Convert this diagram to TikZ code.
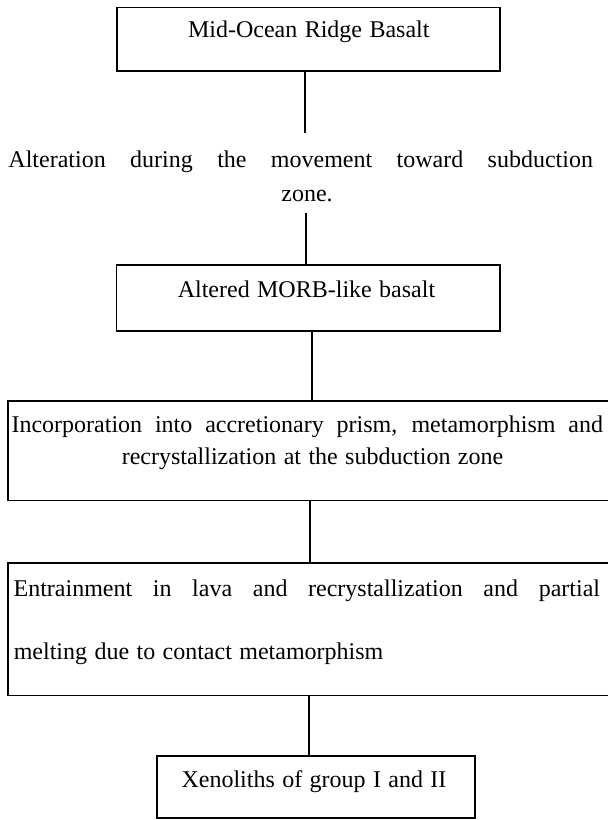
\documentclass[tikz,border=0pt]{standalone}
\usepackage{fontspec}
\setmainfont{Liberation Serif}
\newcommand\diagfont{\fontsize{24}{29}\selectfont}
\newcommand\diagspace{\spaceskip=7.4pt plus 12pt minus 1.2pt\relax}
\begin{document}
\begin{tikzpicture}[x=1pt,y=-1pt]
\tikzset{
  boxnode/.style={draw=black, line width=1.8pt, inner sep=0pt, anchor=north west},
  lbl/.style={font=\diagfont, execute at begin node=\diagspace, inner sep=0pt, anchor=base},
  lblw/.style={lbl, anchor=base west},
  conn/.style={line width=2.2pt}
}
\path[use as bounding box, fill=white] (0,0) rectangle (608,820);

% boxes
\node[boxnode, minimum width=383pt, minimum height=63.5pt] (b1) at (116,6.5) {};
\node[boxnode, minimum width=383.4pt, minimum height=66pt] (b2) at (115.6,264.3) {};
\node[boxnode, minimum width=620pt, minimum height=99.5pt] (b3) at (7,400) {};
\node[boxnode, minimum width=620pt, minimum height=132.5pt] (b4) at (7,562) {};
\node[boxnode, minimum width=318pt, minimum height=62pt] (b5) at (156,755) {};

% texts
\node[lbl] (t1) at (308.8,37.3) {Mid-Ocean Ridge Basalt};
\node[lbl] (alt1) at (300.75,167) {\makebox[584.5pt][s]{Alteration during the movement toward subduction}};
\node[lbl] (alt2) at (307,201) {zone.};
\node[lbl] (t2) at (306.5,297.7) {Altered MORB-like basalt};
\node[lbl] (t3a) at (307.3,432.7) {\makebox[591.4pt][s]{Incorporation into accretionary prism, metamorphism and}};
\node[lbl] (t3b) at (312.5,464) {recrystallization at the subduction zone};
\node[lbl] (t4a) at (306.8,596) {\makebox[586.4pt][s]{Entrainment in lava and recrystallization and partial}};
\node[lblw] (t4b) at (13.6,659) {melting due to contact metamorphism};
\node[lbl] (t5) at (314,787) {Xenoliths of group I and II};

% connector positions
\coordinate (c1) at (305,133.4);
\coordinate (c2) at (306,213);
\coordinate (x3) at (312,0);
\coordinate (x4) at (310,0);
\coordinate (x5) at (309,0);

% connectors
\draw[conn] (b1.south -| c1) -- (c1);
\draw[conn] (c2) -- (c2 |- b2.north);
\draw[conn] (b2.south -| x3) -- (b3.north -| x3);
\draw[conn] (b3.south -| x4) -- (b4.north -| x4);
\draw[conn] (b4.south -| x5) -- (b5.north -| x5);
\end{tikzpicture}
\end{document}
